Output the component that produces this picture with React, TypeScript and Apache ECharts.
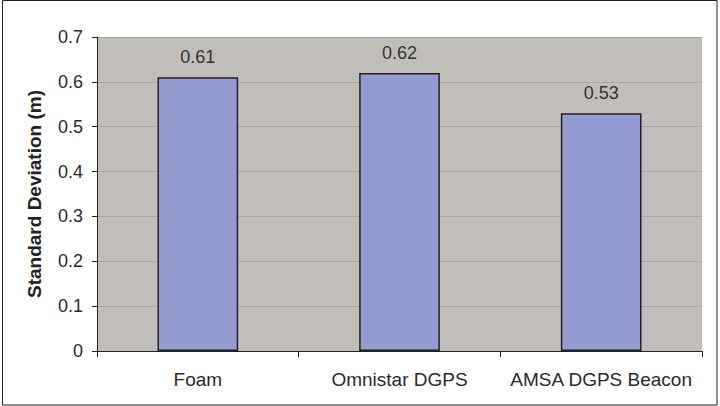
import React, { useEffect, useRef } from "react";
import * as echarts from "echarts";

const categories = ["Foam", "Omnistar DGPS", "AMSA DGPS Beacon"];
const stdDev = [0.61, 0.62, 0.53];
const yTicks = { min: 0, max: 0.7, interval: 0.1 };

export default function App() {
  const ref = useRef<HTMLDivElement>(null);
  useEffect(() => {
    const chart = echarts.init(ref.current!, undefined, { renderer: "svg" });
    const font = "'Liberation Sans', Arial, sans-serif";
    chart.setOption({
      animation: false,
      backgroundColor: "#ffffff",
      graphic: [
        {
          type: "rect",
          shape: { x: 2.5, y: 0.5, width: 714.5, height: 404.5 },
          style: { fill: "none", stroke: "#222", lineWidth: 1 },
          silent: true,
        },
      ],
      grid: { left: 97, right: 18, top: 37, bottom: 55, show: true, backgroundColor: "#C1BEBA", borderWidth: 0 },
      xAxis: {
        type: "category",
        data: categories,
        boundaryGap: true,
        axisLine: { show: true, lineStyle: { color: "#222", width: 1 } },
        axisTick: { show: true, alignWithLabel: false, length: 6, lineStyle: { color: "#222" } },
        axisLabel: { color: "#2a2a2a", fontFamily: font, fontSize: 19, margin: 19, interval: 0, hideOverlap: false },
      },
      yAxis: {
        type: "value",
        min: yTicks.min,
        max: yTicks.max,
        interval: yTicks.interval,
        name: "Standard Deviation (m)",
        nameLocation: "middle",
        nameGap: 53,
        nameTextStyle: { color: "#222", fontFamily: font, fontSize: 19, fontWeight: "bold" },
        axisLine: { show: true, lineStyle: { color: "#222", width: 1 } },
        axisTick: { show: true, length: 5, lineStyle: { color: "#222" } },
        axisLabel: { color: "#2a2a2a", fontFamily: font, fontSize: 18, margin: 14, formatter: (v: number) => (v === 0 ? "0" : v.toFixed(1)) },
        splitLine: { show: true, lineStyle: { color: "#A9A6A3", width: 1 } },
      },
      series: [
        {
          type: "bar",
          data: stdDev,
          barWidth: "40%",
          itemStyle: { color: "#949BD0", borderColor: "#222", borderWidth: 1.5 },
          label: {
            show: true,
            position: "top",
            distance: 11,
            color: "#333",
            fontFamily: font,
            fontSize: 18,
            formatter: (p: any) => p.value.toFixed(2),
          },
        },
      ],
    });
    return () => chart.dispose();
  }, []);
  return <div ref={ref} style={{ position: "fixed", left: 0, top: 0, width: 720, height: 406 }} />;
}
